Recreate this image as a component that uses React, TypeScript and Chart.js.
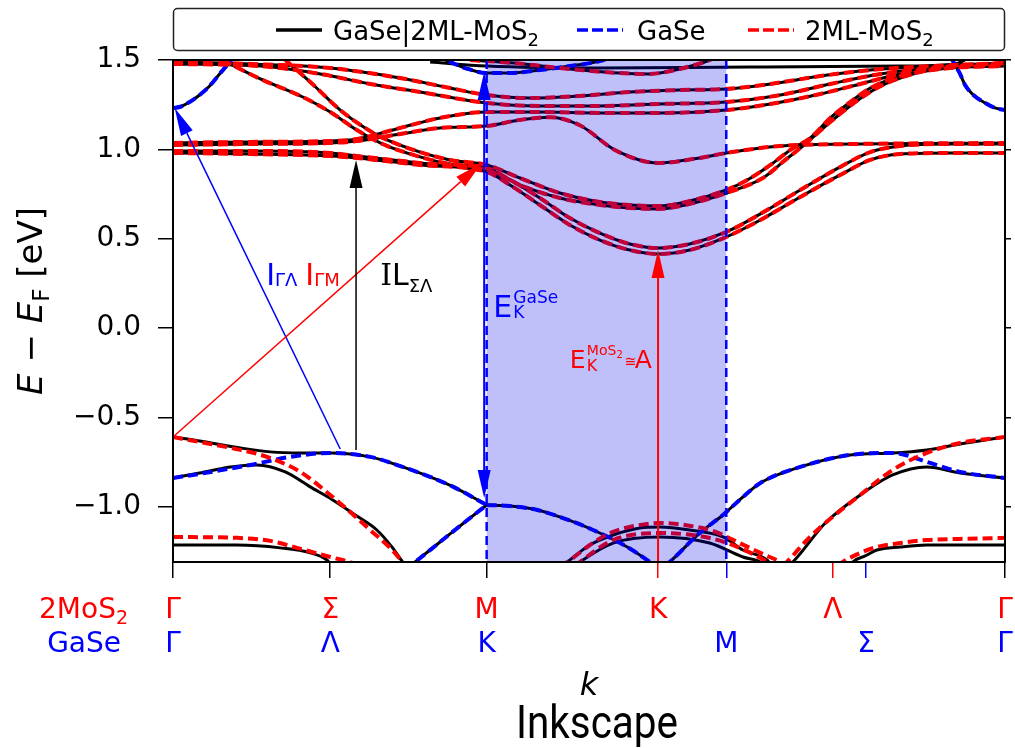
import React, { useEffect, useRef } from "react";
import { Chart, registerables } from "chart.js";
Chart.register(...registerables);

type Pt = [number, number];

// ---------- axes ----------
const kTickValues = [0, 0.189, 0.377, 0.583, 0.665, 0.793, 0.833, 1];
const kTickColors = ["#000000", "#000000", "#000000", "#ff0000", "#0000ff", "#ff0000", "#0000ff", "#000000"];
const mos2TickK = [0, 0.189, 0.377, 0.583, 0.793, 1];
const mos2TickText = ["Γ", "Σ", "M", "K", "Λ", "Γ"];
const gaseTickK = [0, 0.189, 0.377, 0.665, 0.833, 1];
const gaseTickText = ["Γ", "Λ", "K", "M", "Σ", "Γ"];
const yTickValues = [-1.0, -0.5, 0.0, 0.5, 1.0, 1.5];
const yTickLabels = ["−1.0", "−0.5", "0.0", "0.5", "1.0", "1.5"];
const yMin = -1.308;
const yMax = 1.5;
const shadedK = [0.377, 0.665];

// ---------- GaSe bands (blue dashed, also in combined) ----------
const gaseCondLeft: Pt[] = [[0, 1.232], [0.008, 1.237], [0.02, 1.265], [0.032, 1.304], [0.044, 1.355], [0.056, 1.422], [0.069, 1.494], [0.075, 1.534]];
const gaseCondRight: Pt[] = [[0.934, 1.522], [0.94, 1.472], [0.946, 1.422], [0.952, 1.36], [0.962, 1.304], [0.976, 1.26], [0.988, 1.232], [1, 1.22]];
const gaseCondK: Pt[] = [[0.315, 1.522], [0.333, 1.489], [0.351, 1.455], [0.377, 1.427], [0.405, 1.427], [0.441, 1.444], [0.477, 1.466], [0.513, 1.494], [0.528, 1.517]];
const gaseVal1: Pt[] = [[0, -0.838], [0.032, -0.815], [0.093, -0.765], [0.141, -0.72], [0.189, -0.698], [0.237, -0.72], [0.276, -0.776], [0.309, -0.832], [0.337, -0.888], [0.377, -0.989]];
const gaseVal2: Pt[] = [[0.279, -1.352], [0.291, -1.308], [0.309, -1.241], [0.333, -1.151], [0.357, -1.062], [0.377, -0.989]];
const gaseVal3: Pt[] = [[0.377, -0.989], [0.405, -0.995], [0.438, -1.017], [0.465, -1.056], [0.505, -1.129], [0.546, -1.224], [0.573, -1.308], [0.579, -1.33]];
const gaseVal4: Pt[] = [[0.591, -1.33], [0.597, -1.308], [0.633, -1.146], [0.661, -1.045], [0.681, -0.961], [0.706, -0.866], [0.754, -0.776], [0.814, -0.709], [0.865, -0.698], [0.906, -0.748], [0.946, -0.804], [1, -0.838]];

// ---------- combined-only bands (black) ----------
const hybTop: Pt[] = [[0.309, 1.489], [0.377, 1.466], [0.513, 1.455], [0.694, 1.461], [0.874, 1.466], [0.94, 1.478], [0.956, 1.511]];
const hybVal1: Pt[] = [[0, -0.609], [0.032, -0.631], [0.081, -0.67], [0.117, -0.692], [0.153, -0.698], [0.189, -0.698], [0.237, -0.72], [0.276, -0.776], [0.309, -0.832], [0.337, -0.888], [0.377, -0.989]];
const hybVal2: Pt[] = [[0, -0.838], [0.032, -0.81], [0.069, -0.776], [0.101, -0.765], [0.135, -0.804], [0.165, -0.888], [0.192, -0.961], [0.219, -1.045], [0.245, -1.129], [0.264, -1.229], [0.276, -1.308], [0.282, -1.341]];
const hybVal3: Pt[] = [[0.591, -1.33], [0.597, -1.308], [0.633, -1.146], [0.661, -1.045], [0.681, -0.961], [0.706, -0.866], [0.754, -0.776], [0.814, -0.709], [0.865, -0.698], [0.906, -0.681], [0.946, -0.648], [1, -0.609]];
const hybVal4: Pt[] = [[0.739, -1.33], [0.745, -1.308], [0.784, -1.09], [0.826, -0.933], [0.865, -0.821], [0.906, -0.776], [0.946, -0.81], [1, -0.838]];
const hybArcK1: Pt[] = [[0.468, -1.33], [0.474, -1.308], [0.501, -1.213], [0.529, -1.157], [0.561, -1.118], [0.585, -1.112], [0.621, -1.129], [0.661, -1.168], [0.685, -1.241], [0.714, -1.297], [0.72, -1.33]];
const hybArcK2: Pt[] = [[0.483, -1.33], [0.489, -1.308], [0.529, -1.202], [0.585, -1.168], [0.645, -1.202], [0.685, -1.28], [0.706, -1.308], [0.712, -1.33]];
const hybLowLeft: Pt[] = [[0, -1.213], [0.077, -1.213], [0.129, -1.229], [0.165, -1.257], [0.185, -1.297], [0.191, -1.33]];
const hybLowRight: Pt[] = [[0.814, -1.33], [0.817, -1.308], [0.832, -1.274], [0.846, -1.241], [0.874, -1.224], [0.906, -1.213], [0.946, -1.213], [1, -1.213]];

// ---------- 2ML-MoS2 bands (red dashed; conduction also in combined) ----------
const mosCond1: Pt[] = [[0, 0.98], [0.093, 0.974], [0.189, 0.963], [0.221, 0.952], [0.297, 0.913], [0.377, 0.874], [0.405, 0.801], [0.441, 0.689], [0.477, 0.577], [0.513, 0.493], [0.549, 0.437], [0.583, 0.415], [0.621, 0.437], [0.665, 0.51], [0.706, 0.605], [0.754, 0.734], [0.802, 0.857], [0.838, 0.941], [0.874, 0.974], [0.934, 0.98], [1, 0.98]];
const mosCond2: Pt[] = [[0, 0.991], [0.093, 0.991], [0.189, 0.98], [0.221, 0.963], [0.297, 0.924], [0.377, 0.885], [0.405, 0.829], [0.441, 0.728], [0.477, 0.616], [0.513, 0.532], [0.549, 0.471], [0.583, 0.448], [0.621, 0.471], [0.665, 0.538], [0.706, 0.639], [0.754, 0.773], [0.802, 0.902], [0.838, 0.985], [0.874, 1.019], [0.934, 1.03], [1, 1.03]];
const mosCond3: Pt[] = [[0, 1.036], [0.093, 1.042], [0.189, 1.047], [0.221, 1.058], [0.273, 1.12], [0.321, 1.176], [0.377, 1.209], [0.441, 1.209], [0.513, 1.204], [0.585, 1.204], [0.665, 1.22], [0.718, 1.254], [0.778, 1.31], [0.826, 1.366], [0.874, 1.422], [0.934, 1.461], [1, 1.472]];
const mosCond4: Pt[] = [[0, 1.025], [0.093, 1.03], [0.189, 1.036], [0.221, 1.047], [0.273, 1.086], [0.321, 1.12], [0.377, 1.131], [0.417, 1.165], [0.453, 1.18], [0.489, 1.135], [0.531, 0.997], [0.583, 0.924], [0.633, 0.952], [0.665, 0.98], [0.73, 1.019], [0.814, 1.03], [1, 1.036]];
const mosCond5: Pt[] = [[0.059, 1.5], [0.105, 1.394], [0.156, 1.293], [0.189, 1.209], [0.221, 1.108], [0.252, 1.03], [0.297, 0.958], [0.333, 0.918], [0.377, 0.896], [0.417, 0.801], [0.465, 0.728], [0.513, 0.689], [0.549, 0.672], [0.583, 0.667], [0.621, 0.695], [0.665, 0.756], [0.709, 0.84], [0.736, 0.941], [0.757, 1.019], [0.79, 1.153], [0.817, 1.254], [0.838, 1.321], [0.858, 1.371], [0.898, 1.433], [0.946, 1.466], [1, 1.478]];
const mosCond6: Pt[] = [[0.135, 1.5], [0.165, 1.377], [0.201, 1.22], [0.231, 1.12], [0.252, 1.064], [0.297, 0.985], [0.333, 0.941], [0.377, 0.913], [0.417, 0.84], [0.465, 0.756], [0.513, 0.706], [0.549, 0.689], [0.583, 0.683], [0.621, 0.711], [0.665, 0.773], [0.688, 0.823], [0.718, 0.913], [0.742, 0.997], [0.766, 1.064], [0.79, 1.176], [0.814, 1.265], [0.838, 1.343], [0.874, 1.41], [0.934, 1.455], [1, 1.466]];
const mosCond7: Pt[] = [[0, 1.489], [0.093, 1.478], [0.189, 1.455], [0.273, 1.399], [0.333, 1.343], [0.377, 1.304], [0.429, 1.287], [0.489, 1.299], [0.549, 1.321], [0.609, 1.332], [0.665, 1.338], [0.718, 1.366], [0.778, 1.41], [0.838, 1.444], [0.91, 1.466], [1, 1.483]];
const mosCond8: Pt[] = [[0, 1.478], [0.105, 1.466], [0.177, 1.422], [0.237, 1.366], [0.297, 1.321], [0.377, 1.26], [0.441, 1.243], [0.513, 1.243], [0.583, 1.254], [0.665, 1.265], [0.73, 1.304], [0.79, 1.366], [0.85, 1.422], [0.922, 1.461], [1, 1.483]];
const mosCond9: Pt[] = [[0.357, 1.5], [0.41, 1.483], [0.453, 1.461], [0.49, 1.444], [0.537, 1.427], [0.572, 1.422], [0.609, 1.45], [0.639, 1.489], [0.657, 1.522]];
const mosVal1L: Pt[] = [[0, -0.609], [0.032, -0.637], [0.081, -0.681], [0.113, -0.72], [0.153, -0.804], [0.189, -0.933], [0.213, -1.028], [0.237, -1.129], [0.261, -1.229], [0.276, -1.308], [0.282, -1.341]];
const mosVal1R: Pt[] = [[0.733, -1.33], [0.738, -1.308], [0.762, -1.185], [0.784, -1.09], [0.826, -0.933], [0.865, -0.793], [0.906, -0.698], [0.946, -0.642], [1, -0.609]];
const mosArc1: Pt[] = [[0.465, -1.33], [0.474, -1.308], [0.501, -1.213], [0.525, -1.146], [0.555, -1.106], [0.585, -1.09], [0.615, -1.101], [0.645, -1.129], [0.661, -1.157], [0.681, -1.202], [0.706, -1.257], [0.73, -1.308], [0.737, -1.33]];
const mosArc2: Pt[] = [[0.483, -1.33], [0.489, -1.308], [0.529, -1.185], [0.585, -1.146], [0.645, -1.174], [0.681, -1.229], [0.714, -1.308], [0.72, -1.33]];
const mosLowL: Pt[] = [[0, -1.168], [0.077, -1.173], [0.117, -1.19], [0.149, -1.229], [0.189, -1.28], [0.216, -1.313], [0.225, -1.33]];
const mosLowR: Pt[] = [[0.799, -1.33], [0.805, -1.308], [0.826, -1.257], [0.846, -1.224], [0.874, -1.202], [0.906, -1.185], [0.946, -1.179], [1, -1.173]];

// ---------- arrows (k, E) ----------
const arrowIGL: Pt[] = [[0.201, -0.676], [0.002, 1.232]];
const arrowIGM: Pt[] = [[0.0, -0.609], [0.371, 0.924]];
const arrowIL: Pt[] = [[0.22, -0.681], [0.22, 0.941]];
const arrowEKGaSe: Pt[] = [[0.374, -0.95], [0.374, 1.433]];
const arrowEKMoS2: Pt[] = [[0.583, -1.308], [0.583, 0.437]];

// ---------- annotation anchors (k, E) ----------
const labelIGL: Pt = [0.112, 0.242];
const labelIGM: Pt = [0.159, 0.242];
const labelIL: Pt = [0.249, 0.242];
const labelEGaSe: Pt = [0.385, 0.063];
const labelEMoS2: Pt = [0.477, -0.223];

const combinedBands: Pt[][] = [gaseCondLeft, gaseCondRight, gaseCondK, hybTop, mosCond1, mosCond2, mosCond3, mosCond4, mosCond5, mosCond6, mosCond7, mosCond8, mosCond9, hybVal1, hybVal2, gaseVal2, gaseVal3, hybVal3, hybVal4, hybArcK1, hybArcK2, hybLowLeft, hybLowRight];
const gaseBands: Pt[][] = [gaseCondLeft, gaseCondRight, gaseCondK, gaseVal1, gaseVal2, gaseVal3, gaseVal4];
const mosBands: Pt[][] = [mosCond1, mosCond2, mosCond3, mosCond4, mosCond5, mosCond6, mosCond7, mosCond8, mosCond9, mosVal1L, mosVal1R, mosArc1, mosArc2, mosLowL, mosLowR];

const SANS = '"DejaVu Sans", "Liberation Sans", sans-serif';

type Run = { t: string; size: number; dy?: number; italic?: boolean; family?: string };
function fnt(r: Run) {
  return `${r.italic ? "italic " : ""}${r.size}px ${r.family || SANS}`;
}
function runsWidth(ctx: CanvasRenderingContext2D, runs: Run[]) {
  let w = 0;
  for (const r of runs) {
    ctx.font = fnt(r);
    w += ctx.measureText(r.t).width;
  }
  return w;
}
function drawRuns(ctx: CanvasRenderingContext2D, runs: Run[], x: number, y: number, color: string, align: "left" | "center" | "right" = "left") {
  const w = runsWidth(ctx, runs);
  let cx = align === "left" ? x : align === "center" ? x - w / 2 : x - w;
  ctx.fillStyle = color;
  ctx.textAlign = "left";
  ctx.textBaseline = "alphabetic";
  for (const r of runs) {
    ctx.font = fnt(r);
    ctx.fillText(r.t, cx, y + (r.dy || 0));
    cx += ctx.measureText(r.t).width;
  }
}
function drawHead(ctx: CanvasRenderingContext2D, x1: number, y1: number, x2: number, y2: number, hl: number, hw: number) {
  const a = Math.atan2(y2 - y1, x2 - x1);
  const bx = x2 - hl * Math.cos(a);
  const by = y2 - hl * Math.sin(a);
  ctx.beginPath();
  ctx.moveTo(x2, y2);
  ctx.lineTo(bx + (hw / 2) * Math.sin(a), by - (hw / 2) * Math.cos(a));
  ctx.lineTo(bx - (hw / 2) * Math.sin(a), by + (hw / 2) * Math.cos(a));
  ctx.closePath();
  ctx.fill();
  return [bx, by];
}
function drawArrow(ctx: CanvasRenderingContext2D, p1: number[], p2: number[], color: string, lw: number, both = false) {
  const hl = 28, hw = 13;
  ctx.strokeStyle = color;
  ctx.fillStyle = color;
  ctx.lineWidth = lw;
  ctx.setLineDash([]);
  const [ex, ey] = drawHead(ctx, p1[0], p1[1], p2[0], p2[1], hl, hw);
  let sx = p1[0], sy = p1[1];
  if (both) {
    const r = drawHead(ctx, p2[0], p2[1], p1[0], p1[1], hl, hw);
    sx = r[0];
    sy = r[1];
  }
  ctx.beginPath();
  ctx.moveTo(sx, sy);
  ctx.lineTo(ex, ey);
  ctx.stroke();
}

const overlayPlugin = {
  id: "bandOverlay",
  afterDatasetsDraw(chart: any) {
    const { ctx, chartArea: a, scales } = chart;
    const X = (v: number) => scales.x.getPixelForValue(v);
    const Y = (v: number) => scales.y.getPixelForValue(v);
    const P = (p: Pt) => [X(p[0]), Y(p[1])];
    ctx.save();
    ctx.fillStyle = "rgba(0,0,230,0.25)";
    ctx.fillRect(X(shadedK[0]), a.top, X(shadedK[1]) - X(shadedK[0]), a.bottom - a.top);
    ctx.strokeStyle = "#0000ff";
    ctx.lineWidth = 2.5;
    ctx.setLineDash([9, 5]);
    for (const k of shadedK) {
      ctx.beginPath();
      ctx.moveTo(X(k), a.top);
      ctx.lineTo(X(k), a.bottom);
      ctx.stroke();
    }
    ctx.setLineDash([]);
    drawArrow(ctx, P(arrowIGL[0]), P(arrowIGL[1]), "#0000ff", 1.5);
    drawArrow(ctx, P(arrowIGM[0]), P(arrowIGM[1]), "#ff0000", 1.5);
    drawArrow(ctx, P(arrowIL[0]), P(arrowIL[1]), "#000000", 1.5);
    drawArrow(ctx, P(arrowEKGaSe[0]), P(arrowEKGaSe[1]), "#0000ff", 2, true);
    drawArrow(ctx, P(arrowEKMoS2[0]), P(arrowEKMoS2[1]), "#ff0000", 2);

    // annotation labels
    let p = P(labelIGL);
    drawRuns(ctx, [{ t: "I", size: 30 }, { t: "ΓΛ", size: 18, dy: 1 }], p[0], p[1], "#0000ff");
    p = P(labelIGM);
    drawRuns(ctx, [{ t: "I", size: 30 }, { t: "ΓM", size: 18, dy: 1 }], p[0], p[1], "#ff0000");
    p = P(labelIL);
    drawRuns(ctx, [{ t: "I", size: 30, family: '"DejaVu Serif", serif' }, { t: "L", size: 30 }, { t: "ΣΛ", size: 18, dy: 7 }], p[0], p[1], "#000000");
    p = P(labelEGaSe);
    drawRuns(ctx, [{ t: "E", size: 30 }], p[0], p[1], "#0000ff");
    drawRuns(ctx, [{ t: "GaSe", size: 17 }], p[0] + 20, p[1] - 14, "#0000ff");
    drawRuns(ctx, [{ t: "K", size: 17 }], p[0] + 20, p[1] + 1, "#0000ff");
    p = P(labelEMoS2);
    drawRuns(ctx, [{ t: "E", size: 25 }], p[0], p[1], "#ff0000");
    drawRuns(ctx, [{ t: "MoS", size: 14 }, { t: "2", size: 10, dy: 3 }], p[0] + 17, p[1] - 13, "#ff0000");
    drawRuns(ctx, [{ t: "K", size: 16 }], p[0] + 17, p[1] + 3, "#ff0000");
    drawRuns(ctx, [{ t: "≅", size: 14 }], p[0] + 55, p[1] - 2, "#ff0000");
    drawRuns(ctx, [{ t: "A", size: 25 }], p[0] + 65, p[1], "#ff0000");
    ctx.restore();
  },
  afterDraw(chart: any) {
    const { ctx, chartArea: a, scales } = chart;
    const X = (v: number) => scales.x.getPixelForValue(v);
    ctx.save();
    // frame
    ctx.strokeStyle = "#000";
    ctx.lineWidth = 2;
    ctx.setLineDash([]);
    ctx.strokeRect(a.left, a.top, a.right - a.left, a.bottom - a.top);

    // legend
    ctx.fillStyle = "#fff";
    ctx.strokeStyle = "#222";
    ctx.lineWidth = 1.5;
    ctx.beginPath();
    (ctx as any).roundRect(a.left + 0.5, 8.5, a.right - a.left - 1, 42, 4);
    ctx.fill();
    ctx.stroke();
    const ly = 30;
    ctx.lineWidth = 3.5;
    ctx.strokeStyle = "#000";
    ctx.beginPath(); ctx.moveTo(276, ly); ctx.lineTo(322, ly); ctx.stroke();
    drawRuns(ctx, [{ t: "GaSe|2ML-MoS", size: 26 }, { t: "2", size: 18, dy: 6 }], 333, 40, "#000");
    ctx.setLineDash([11, 4]);
    ctx.strokeStyle = "#0000ff";
    ctx.beginPath(); ctx.moveTo(577, ly); ctx.lineTo(623, ly); ctx.stroke();
    ctx.strokeStyle = "#ff0000";
    ctx.beginPath(); ctx.moveTo(748, ly); ctx.lineTo(794, ly); ctx.stroke();
    ctx.setLineDash([]);
    drawRuns(ctx, [{ t: "GaSe", size: 26 }], 637, 40, "#000");
    drawRuns(ctx, [{ t: "2ML-MoS", size: 26 }, { t: "2", size: 18, dy: 6 }], 805, 40, "#000");

    // x tick labels (two rows)
    const row1 = a.bottom + 56;
    const row2 = a.bottom + 90;
    mos2TickK.forEach((k, i) => drawRuns(ctx, [{ t: mos2TickText[i], size: 28 }], X(k), row1, "#ff0000", "center"));
    gaseTickK.forEach((k, i) => drawRuns(ctx, [{ t: gaseTickText[i], size: 28 }], X(k), row2, "#0000ff", "center"));
    drawRuns(ctx, [{ t: "2MoS", size: 28 }, { t: "2", size: 19, dy: 6 }], 128, row1, "#ff0000", "right");
    drawRuns(ctx, [{ t: "GaSe", size: 28 }], 121, row2, "#0000ff", "right");

    // axis titles
    drawRuns(ctx, [{ t: "k", size: 32, italic: true }], (a.left + a.right) / 2, 695, "#000", "center");
    ctx.save();
    ctx.translate(42, 301);
    ctx.rotate(-Math.PI / 2);
    drawRuns(ctx, [{ t: "E", size: 34, italic: true }, { t: " − ", size: 34 }, { t: "E", size: 34, italic: true }, { t: "F", size: 23, dy: 7 }, { t: " [eV]", size: 34 }], 0, 0, "#000", "center");
    ctx.restore();

    ctx.fillStyle = "#000";
    ctx.font = '46px Roboto, "Liberation Sans", sans-serif';
    ctx.textAlign = "center";
    ctx.textBaseline = "alphabetic";
    ctx.fillText("Inkscape", 597, 738, 162);
    ctx.restore();
  },
};

function toData(pts: Pt[]) {
  return pts.map(([x, y]) => ({ x, y }));
}

export default function App() {
  const ref = useRef<HTMLCanvasElement | null>(null);
  useEffect(() => {
    if (!ref.current) return;
    // higher "order" is drawn first (underneath)
    const line = (pts: Pt[], color: string, dashed: boolean, order: number) => ({
      data: toData(pts),
      showLine: true,
      borderColor: color,
      backgroundColor: color,
      borderWidth: dashed ? 4 : 3,
      borderDash: dashed ? [10, 5] : [],
      pointRadius: 0,
      pointHoverRadius: 0,
      fill: false,
      tension: 0.4,
      cubicInterpolationMode: "monotone" as const,
      clip: 0,
      order,
    });
    const datasets = [
      ...combinedBands.map((b) => line(b, "#000000", false, 3)),
      ...gaseBands.map((b) => line(b, "#0000ff", true, 2)),
      ...mosBands.map((b) => line(b, "#ff0000", true, 1)),
    ];
    const yTicksBuild = (s: any) => {
      s.ticks = yTickValues.map((v) => ({ value: v }));
    };
    const chart = new Chart(ref.current, {
      type: "scatter",
      data: { datasets: datasets as any },
      options: {
        animation: false,
        responsive: false,
        devicePixelRatio: 1,
        layout: { padding: { top: 60, left: 0, right: 0, bottom: 0 } },
        plugins: { legend: { display: false }, tooltip: { enabled: false } },
        events: [],
        scales: {
          x: {
            type: "linear",
            min: 0,
            max: 1,
            afterFit: (s: any) => { s.height = 186; },
            afterBuildTicks: (s: any) => { s.ticks = kTickValues.map((v) => ({ value: v })); },
            ticks: { autoSkip: false, callback: () => "" },
            grid: {
              drawOnChartArea: false,
              tickLength: 16,
              lineWidth: 1.5,
              color: (c: any) => kTickColors[c.index] || "#000",
              tickColor: (c: any) => kTickColors[c.index] || "#000",
            },
            border: { color: "#000", width: 2 },
          },
          y: {
            type: "linear",
            position: "left",
            min: yMin,
            max: yMax,
            afterFit: (s: any) => { s.width = 173; },
            afterBuildTicks: yTicksBuild,
            ticks: {
              autoSkip: false,
              callback: (_v: any, i: number) => yTickLabels[i],
              font: { family: "DejaVu Sans", size: 28 },
              color: "#000",
              padding: 17,
            },
            grid: { drawOnChartArea: false, tickLength: 15, lineWidth: 1.5, color: "#000" },
            border: { color: "#000", width: 2 },
          },
          y2: {
            type: "linear",
            position: "right",
            min: yMin,
            max: yMax,
            afterFit: (s: any) => { s.width = 10; },
            afterBuildTicks: yTicksBuild,
            ticks: { autoSkip: false, callback: () => "", padding: 0 },
            grid: { drawOnChartArea: false, tickLength: 6, lineWidth: 1.5, color: "#000" },
            border: { color: "#000", width: 2 },
          },
        },
      },
      plugins: [overlayPlugin],
    });
    return () => chart.destroy();
  }, []);
  return (
    <div style={{ position: "absolute", left: 0, top: 0, width: 1015, height: 748, background: "#fff" }}>
      <canvas ref={ref} width={1015} height={748} style={{ display: "block" }} />
    </div>
  );
}
